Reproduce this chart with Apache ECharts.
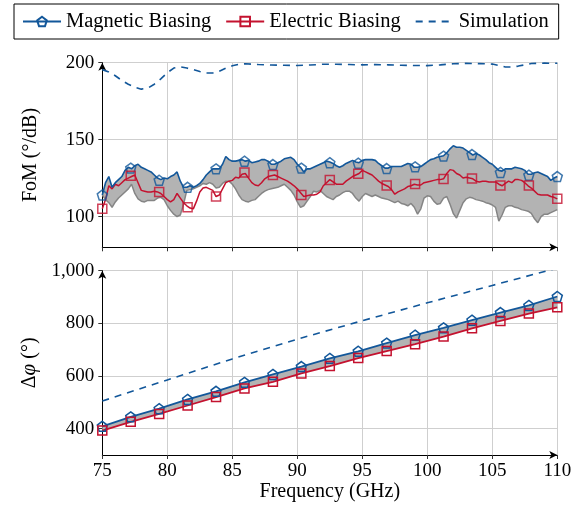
<!DOCTYPE html>
<html>
<head>
<meta charset="utf-8">
<script src="https://cdn.jsdelivr.net/npm/echarts@6/dist/echarts.min.js"></script>
<style>
html,body{margin:0;padding:0;background:#fff;}
#chart{width:576px;height:518px;}
</style>
</head>
<body>
<div id="chart"></div>
<script>
// ---------- data: top panel (FoM, °/dB) ----------
const freqTop = [
75,75.25,75.5,75.75,76,76.25,76.5,76.75,77,77.25,77.5,77.75,78,78.25,78.5,78.75,79,79.25,79.5,79.75,
80,80.25,80.5,80.75,81,81.25,81.5,81.75,82,82.25,82.5,82.75,83,83.25,83.5,83.75,84,84.25,84.5,84.75,
85,85.25,85.5,85.75,86,86.25,86.5,86.75,87,87.25,87.5,87.75,88,88.25,88.5,88.75,89,89.25,89.5,89.75,
90,90.25,90.5,90.75,91,91.25,91.5,91.75,92,92.25,92.5,92.75,93,93.25,93.5,93.75,94,94.25,94.5,94.75,
95,95.25,95.5,95.75,96,96.25,96.5,96.75,97,97.25,97.5,97.75,98,98.25,98.5,98.75,99,99.25,99.5,99.75,
100,100.25,100.5,100.75,101,101.25,101.5,101.75,102,102.25,102.5,102.75,103,103.25,103.5,103.75,104,104.25,104.5,104.75,
105,105.25,105.5,105.75,106,106.25,106.5,106.75,107,107.25,107.5,107.75,108,108.25,108.5,108.75,109,109.25,109.5,109.75,
110];
const fomMagnetic = [
114,122,126,119,122,124,126,130,132,131,133,134,132,131,130,129,127,125,124,125,
124.5,126,127,129,123,119,119,120,119,120,121.5,124,127,129,131,131,131,134,139,137,
136,136,136.5,137,136,136.5,135,135.5,136,137,137,136,134,134,135,136,137.5,138,138.5,137,
134,132,129,131,131,132,133,134,135,136,135.5,134.5,133,132,133,134.5,135.5,136.5,135.5,135,
136.5,137,137,137,136.5,134.5,133,131.5,131.5,132.5,132.5,132.5,132.5,133.5,134.5,134,132,132,132.5,134,
135.5,137,137.5,138.5,139,139.5,141.5,144,146,145,145,144.5,143,141.5,140,141,140,138.5,137,135,
134,132,130,129.5,131,131,131,132,131.5,131,130,127.5,127.5,128.5,129,128,127,126,123.5,125,
126];
const fomElectric = [
105,111,120,118,121,120,122,124,125,126,127,122,117,116.5,116,116,116.5,116,115,113,
111,109.5,111,115,112,109,107,105.5,105,110,116,118.5,119,118,117,113,114,118,122,123,
123.5,125.5,125,127.5,128,125,122,120.5,120,122,124.5,126,126.5,127,126,125,124,123,121.5,120,
118,115.5,113,113.5,114,114,114.5,116,120,122,124,122.5,121,121,121,123,124.5,126,127,128,
130,129,128,127,125,123,121.5,120.5,119.5,117.5,114.5,116,117,118,119.5,120,121,120.5,120.5,122,
122.5,123,123.5,124,124,124.5,128,130.5,130,128,127,125,125.5,125,124.5,123,122.5,123,123,122.5,
122.5,122.5,121,120,121.5,123,122,124,124,123.5,122,120,118.5,116.5,114.5,114,114,114,113,112.5,
111.5];
const fomLower = [
114,111,109,106,109.5,112,114,116,118,121,115,111.5,110,109.5,110.5,110.5,110.5,112,112.5,111,
107,104,101.5,100,101,108,117,117.5,118,119,120,121.5,121,122,121,118.5,119,121.5,123,123,
121,118,114,111,110,109.5,110.5,111,113,115,116.5,117.5,118,118.5,119,120,121,119,117,114,
109.5,106,107,110,113,116.5,116,117,115,113,112,111,113,114,115.5,116.5,116.5,115,112,110,
113,115,114,113,114,113,112,111.5,111,110,109,110,108.5,108,107,108.5,106,101.5,105,112,
113.5,113,110,108,108.5,112,113,108,102,99,104,109,111.5,112.5,112,111,110.5,110,109,108.5,
107.5,106,97,101,106,107,107,106,105.5,104.5,104,103.5,102,98.5,96,100,101.5,101.5,102.5,103.5,
104.5];
const freqSimTop = [75,75.5,76,76.5,77,77.5,78,78.5,79,79.5,80,80.5,81,81.5,82,82.5,83,83.5,84,84.5,
85,85.5,86,87,88,89,90,91,92,93,94,95,96,97,98,99,100,101,102,103,104,105,105.5,106,106.5,107,107.5,108,109,110];
const fomSim = [195.5,194,191.5,188.5,186,184,182.8,183.5,186,189.5,193.5,196.5,197.3,196.5,195.5,194.3,193.3,193.3,194.5,196.5,
198,199,199.3,198.8,198.5,198.3,198.2,198.5,199,199,198.8,198.6,198.8,198.6,198.3,198.2,198.1,198.6,199.3,199.6,199.4,199.1,198.2,197.2,197.2,197.8,198.6,199.5,199.7,199.6];

// marker positions (every 35/16 GHz)
const freqMark = [75,77.1875,79.375,81.5625,83.75,85.9375,88.125,90.3125,92.5,94.6875,96.875,99.0625,101.25,103.4375,105.625,107.8125,110];
const fomMagMark = [114,131.5,123.6,119,131,136,133.8,131.5,135,134.7,131.2,132.3,139.3,140.3,128.7,126.9,126];
const fomEleMark = [105,126.5,116,106,113,128.7,127,114,123.7,127.8,120.2,121.2,124.4,124.7,120.2,120.2,111.5];

// ---------- data: bottom panel (phase shift, °) ----------
const phaseMagnetic = [409,445,476,511,542,576,606,636,667,694,725,755,783,812,841,868,902];
const phaseElectric = [393,426,456,488,520,553,578,610,638,668,695,721,750,781,809,837,861];
const freqSimBot = [75,80,85,90,95,100,105,110];
const phaseSim = [505,585,665,740,810,878,944,1010];

// tick labels
const xTicks = [75,80,85,90,95,100,105,110];
const fomTicks = [100,150,200];
const phaseTicks = [400,600,800,1000];

// ---------- styling ----------
const BLUE = '#12579a';
const RED = '#c4122f';
const BAND = '#b3b3b3';
const FONT = 'Liberation Serif';
const PENT = 'path://M5,0 L10,3.8 L8.1,10 L1.9,10 L0,3.8 Z';

const pair = (xs, ys) => xs.map((x, i) => [x, ys[i]]);

// filled band between two curves sharing the same x values, through the axes' scales
function bandSeries(axisIdx, xs, upper, lower) {
  return {
    type: 'custom', xAxisIndex: axisIdx, yAxisIndex: axisIdx, silent: true, z: 1,
    data: [[xs[0], upper[0]]],
    renderItem: function (params, api) {
      const pts = [];
      for (let i = 0; i < xs.length; i++) pts.push(api.coord([xs[i], upper[i]]));
      for (let i = xs.length - 1; i >= 0; i--) pts.push(api.coord([xs[i], lower[i]]));
      return {type: 'polygon', shape: {points: pts}, style: {fill: BAND, stroke: null}};
    }
  };
}

const gridL = 102.3, gridW = 455;
const axisText = {color: '#000', fontFamily: FONT, fontSize: 19};

function xAxisCfg(idx, showLabel) {
  return {
    type: 'value', gridIndex: idx, min: 75, max: 110, interval: 5,
    axisLine: {show: true, onZero: false, lineStyle: {color: '#000', width: 1}, symbol: ['none', 'arrow'], symbolSize: [6, 8]},
    axisTick: {show: true, length: 4, inside: false, lineStyle: {color: '#333'}},
    axisLabel: Object.assign({show: showLabel, margin: 7, formatter: v => xTicks.includes(v) ? String(v) : ''}, axisText),
    splitLine: {show: true, lineStyle: {color: '#cfcfcf', width: 1}},
    name: showLabel ? 'Frequency (GHz)' : '',
    nameLocation: 'middle', nameGap: 24,
    nameTextStyle: {color: '#000', fontFamily: FONT, fontSize: 20}
  };
}

const option = {
  animation: false,
  backgroundColor: '#fff',
  legend: {
    data: ['Magnetic Biasing', 'Electric Biasing', 'Simulation'],
    left: 14, top: 4,
    padding: [7, 10, 7, 8],
    itemGap: 14, itemWidth: 38, itemHeight: 12,
    borderColor: '#000', borderWidth: 1, borderRadius: 0,
    textStyle: {color: '#000', fontFamily: FONT, fontSize: 20.5}
  },
  grid: [
    {left: gridL, top: 62.7, width: gridW, height: 184.6},
    {left: gridL, top: 270.7, width: gridW, height: 184.3}
  ],
  xAxis: [xAxisCfg(0, false), xAxisCfg(1, true)],
  yAxis: [
    {
      type: 'value', gridIndex: 0, min: 80, max: 200,
      axisLine: {show: true, onZero: false, lineStyle: {color: '#000', width: 1}, symbol: ['none', 'arrow'], symbolSize: [6, 8]},
      axisTick: {show: true, length: 4, customValues: fomTicks, lineStyle: {color: '#333'}},
      axisLabel: Object.assign({margin: 8, customValues: fomTicks}, axisText),
      splitLine: {show: true, lineStyle: {color: '#cfcfcf', width: 1}},
      name: 'FoM (°/dB)', nameLocation: 'middle', nameGap: 62, nameRotate: 90,
      nameTextStyle: {color: '#000', fontFamily: FONT, fontSize: 20}
    },
    {
      type: 'value', gridIndex: 1, min: 300, max: 1000,
      axisLine: {show: true, onZero: false, lineStyle: {color: '#000', width: 1}, symbol: ['none', 'arrow'], symbolSize: [6, 8]},
      axisTick: {show: true, length: 4, customValues: phaseTicks, lineStyle: {color: '#333'}},
      axisLabel: Object.assign({margin: 8, customValues: phaseTicks, formatter: v => v >= 1000 ? '1,000' : String(v)}, axisText),
      splitLine: {show: true, lineStyle: {color: '#cfcfcf', width: 1}},
      name: '{a|Δ}{b|φ}{a| (°)}', nameLocation: 'middle', nameGap: 62, nameRotate: 90,
      nameTextStyle: {color: '#000', fontFamily: FONT, fontSize: 20,
        rich: {a: {fontFamily: FONT, fontSize: 20, color: '#000'}, b: {fontFamily: FONT, fontSize: 21, fontStyle: 'italic', color: '#000'}}}
    }
  ],
  series: [
    // bottom panel
    bandSeries(1, freqMark, phaseMagnetic, phaseElectric),
    {type: 'line', name: 'Magnetic Biasing', xAxisIndex: 1, yAxisIndex: 1, data: pair(freqMark, phaseMagnetic),
     symbol: PENT, symbolSize: 10, showSymbol: true,
     lineStyle: {color: BLUE, width: 1.8}, itemStyle: {color: 'rgba(255,255,255,0)', borderColor: BLUE, borderWidth: 1.5}, z: 3},
    {type: 'line', name: 'Electric Biasing', xAxisIndex: 1, yAxisIndex: 1, data: pair(freqMark, phaseElectric),
     symbol: 'rect', symbolSize: 9, showSymbol: true,
     lineStyle: {color: RED, width: 1.8}, itemStyle: {color: 'rgba(255,255,255,0)', borderColor: RED, borderWidth: 1.5}, z: 3},
    {type: 'line', name: 'Simulation', xAxisIndex: 1, yAxisIndex: 1, data: pair(freqSimBot, phaseSim),
     symbol: 'none', lineStyle: {color: BLUE, width: 1.6, type: [7, 6]},
     itemStyle: {color: 'rgba(0,0,0,0)', borderWidth: 0, borderColor: 'rgba(0,0,0,0)'}, z: 3},
    // top panel
    bandSeries(0, freqTop, fomMagnetic, fomLower),
    {type: 'line', xAxisIndex: 0, yAxisIndex: 0, symbol: 'none', silent: true,
     lineStyle: {color: '#858585', width: 1.5}, data: pair(freqTop, fomLower), z: 2},
    {type: 'line', xAxisIndex: 0, yAxisIndex: 0, data: pair(freqTop, fomElectric), symbol: 'none',
     lineStyle: {color: RED, width: 1.5}, z: 3},
    {type: 'line', xAxisIndex: 0, yAxisIndex: 0, data: pair(freqTop, fomMagnetic), symbol: 'none',
     lineStyle: {color: BLUE, width: 1.6}, z: 3},
    {type: 'line', xAxisIndex: 0, yAxisIndex: 0, data: pair(freqSimTop, fomSim), symbol: 'none',
     lineStyle: {color: BLUE, width: 1.6, type: [7, 6]}, z: 3},
    {type: 'scatter', xAxisIndex: 0, yAxisIndex: 0, data: pair(freqMark, fomMagMark), symbol: PENT, symbolSize: 10,
     itemStyle: {color: 'rgba(255,255,255,0)', borderColor: BLUE, borderWidth: 1.5}, z: 4},
    {type: 'scatter', xAxisIndex: 0, yAxisIndex: 0, data: pair(freqMark, fomEleMark), symbol: 'rect', symbolSize: 9,
     itemStyle: {color: 'rgba(255,255,255,0)', borderColor: RED, borderWidth: 1.5}, z: 4}
  ]
};

const chart = echarts.init(document.getElementById('chart'), null, {renderer: 'canvas'});
chart.setOption(option);
</script>
</body>
</html>
